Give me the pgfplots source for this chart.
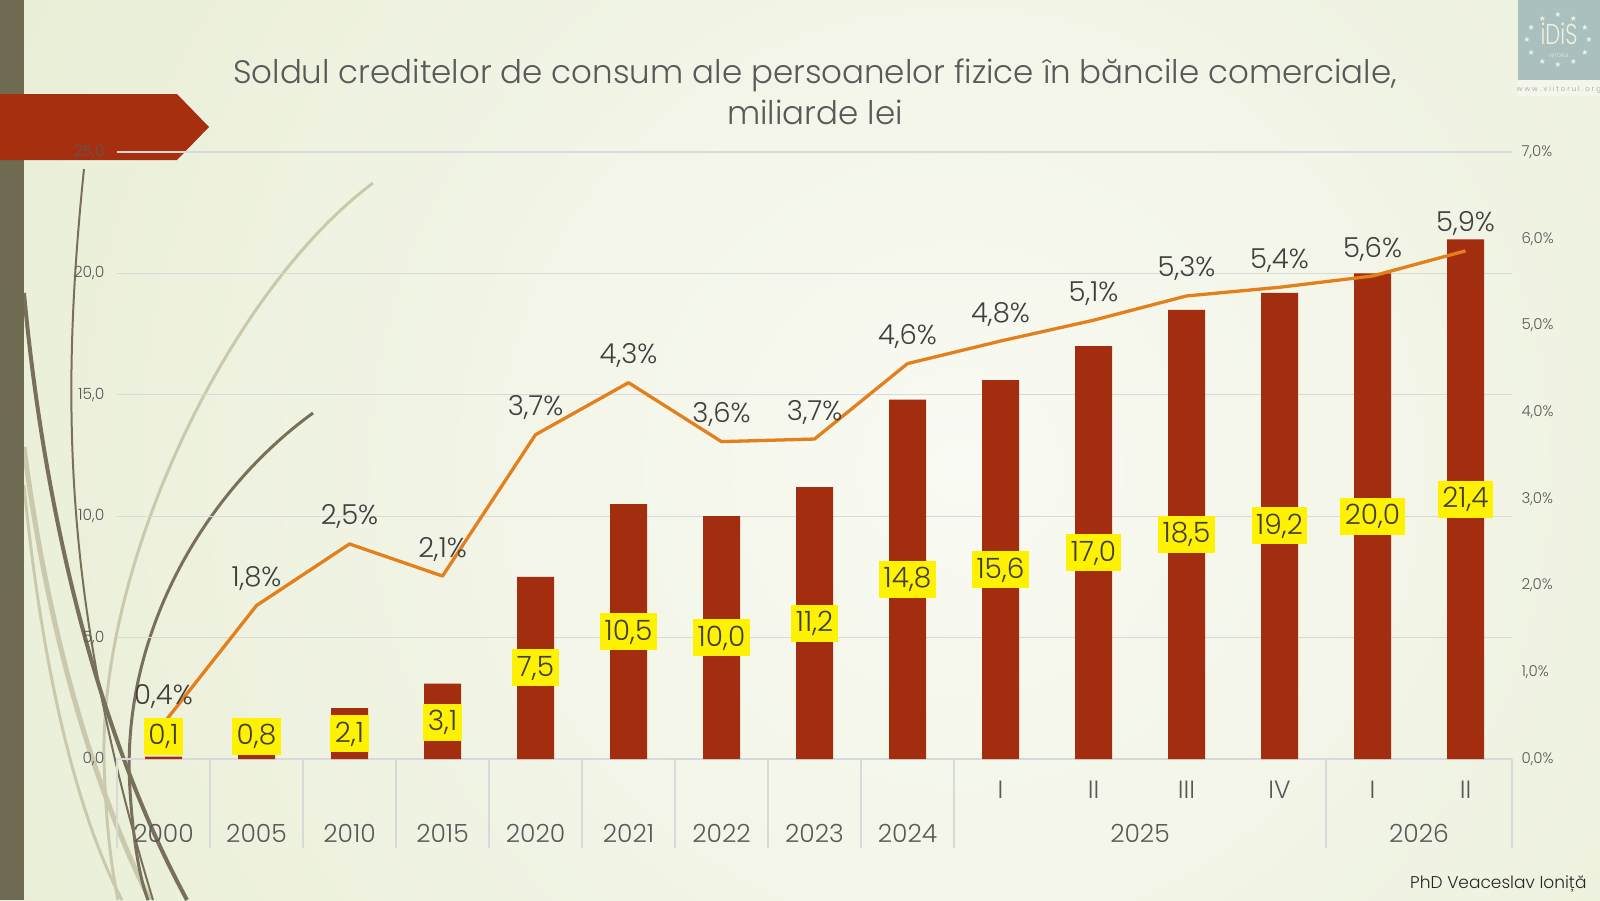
\documentclass[border=0pt]{standalone}
\usepackage{pgfplots}
\pgfplotsset{compat=1.18}
\usepackage{pgfplotstable}
\usepackage{fontspec}
\setmainfont{Poppins Light}
\newfontfamily\symfont{DejaVu Sans}
\pgfkeys{/pgf/number format/assume math mode=true}
\definecolor{bgA}{HTML}{F9FAF3}
\definecolor{bgB}{HTML}{DCE5C0}
\definecolor{stripe}{HTML}{6F6A52}
\definecolor{barred}{HTML}{A32D0F}
\definecolor{arrowred}{HTML}{A62F10}
\definecolor{lineor}{HTML}{E3801C}
\definecolor{gridc}{HTML}{D9D9D9}
\definecolor{txt}{HTML}{595959}
\definecolor{labc}{HTML}{3F3F3F}
\definecolor{cdark}{HTML}{78705A}
\definecolor{clight}{HTML}{CAC9AC}
\definecolor{logo}{HTML}{A9C0BE}
\definecolor{logotxt}{HTML}{F2F0DC}

\pgfplotstableread{
x val lab txt pct ptxt
0 0.1 0.93 0,1 0.41 0,4
1 0.8 0.93 0,8 1.77 1,8
2 2.1 1.05 2,1 2.48 2,5
3 3.1 1.52 3,1 2.11 2,1
4 7.5 3.75 7,5 3.74 3,7
5 10.5 5.25 10,5 4.34 4,3
6 10.0 5.0 10,0 3.66 3,6
7 11.2 5.6 11,2 3.69 3,7
8 14.8 7.4 14,8 4.56 4,6
9 15.6 7.8 15,6 4.82 4,8
10 17.0 8.5 17,0 5.06 5,1
11 18.5 9.25 18,5 5.34 5,3
12 19.2 9.6 19,2 5.44 5,4
13 20.0 10.0 20,0 5.57 5,6
14 21.4 10.7 21,4 5.86 5,9
}\data

\pgfplotsset{base/.style={scale only axis, width=1395pt, height=607pt,
  at={(117pt,-759pt)}, anchor=south west, xmin=-0.5, xmax=14.5, clip=false,
  axis line style={draw=none}, major tick length=0pt, minor tick num=0}}

\begin{document}
\begin{tikzpicture}
\useasboundingbox (0,0) rectangle (1600pt,-900pt);
\begin{scope}
\clip (0,0) rectangle (1600pt,-900pt);
\shade[inner color=bgA, outer color=bgB] (960pt,-470pt) circle (1900pt);
% decorative curves
\draw[clight, line width=5pt] (24pt,-447pt) .. controls (50pt,-650pt) and (100pt,-800pt) .. (150pt,-900pt);
\draw[clight, line width=3pt] (24pt,-485pt) .. controls (45pt,-700pt) and (85pt,-830pt) .. (122pt,-900pt);
\draw[clight, line width=3pt] (373pt,-183pt) .. controls (230pt,-290pt) and (100pt,-560pt) .. (104pt,-760pt) .. controls (106pt,-830pt) and (112pt,-870pt) .. (118pt,-900pt);
\draw[cdark, line width=2pt] (84pt,-169pt) .. controls (58pt,-420pt) and (68pt,-620pt) .. (153pt,-900pt);
\draw[cdark, line width=4pt] (24pt,-293pt) .. controls (45pt,-520pt) and (100pt,-740pt) .. (187pt,-900pt);
\draw[cdark, line width=3pt] (313pt,-413pt) .. controls (200pt,-495pt) and (120pt,-640pt) .. (130pt,-790pt) .. controls (133pt,-840pt) and (140pt,-880pt) .. (148pt,-900pt);
\fill[stripe] (0,0) rectangle (24pt,-900pt);
\fill[arrowred] (0,-94pt) -- (177pt,-94pt) -- (209pt,-127pt) -- (177pt,-160pt) -- (0,-160pt) -- cycle;
% logo
\fill[logo] (1518pt,0) rectangle (1600pt,-80pt);
\fill[white, opacity=0.35] (1518pt,-80pt) rectangle (1600pt,-96pt);
\node[text=logotxt, font=\fontsize{25}{25}\selectfont, yscale=1.15, xscale=0.85, inner sep=0pt] at (1559pt,-34pt) {iDiS};
\node[text=logotxt, font=\fontsize{5}{5}\selectfont, inner sep=0pt] at (1559pt,-56pt) {VIITORUL};
\foreach \a in {0,30,...,330}
  \node[text=logotxt, font=\symfont\fontsize{8}{8}\selectfont, inner sep=0pt] at ([shift={(1558pt,-40pt)}]\a:31pt and 25pt) {★};
\node[text=txt!60, font=\fontsize{7}{7}\selectfont] at (1559pt,-90pt) {w w w . v i i t o r u l . o r g};
\end{scope}

\node[text=txt, font=\fontsize{32.5}{41}\selectfont, align=center] at (815pt,-92pt)
  {Soldul creditelor de consum ale persoanelor fizice în băncile comerciale,\\miliarde lei};
\node[anchor=east, text=black!85, font=\fontsize{17}{17}\selectfont] at (1590pt,-884pt) {PhD Veaceslav Ioniță};

% bars
\begin{axis}[base, ymin=0, ymax=25, ytick={0,5,...,25},
  ymajorgrids, grid style={gridc, line width=1.1pt},
  xtick={9,...,14}, xticklabels={I,II,III,IV,I,II},
  xticklabel style={anchor=center, yshift=-31pt, text=txt, font=\fontsize{25}{25}\selectfont},
  yticklabel style={text=txt, font=\fontsize{15.5}{15.5}\selectfont, xshift=-9pt,
    /pgf/number format/.cd, fixed, fixed zerofill, precision=1, use comma}]
\addplot[ybar, bar width=37pt, bar shift=0pt, fill=barred, draw=none] table[x=x,y=val]{\data};
\pgfplotsinvokeforeach{-0.5,0.5,1.5,2.5,3.5,4.5,5.5,6.5,7.5,8.5,12.5,14.5}{
  \draw[gridc, line width=1.1pt] (axis cs:#1,0) -- ++(0pt,-89pt);
}
\end{axis}

% line
\begin{axis}[base, ymin=0, ymax=7, ytick={0,1,...,7}, yticklabel pos=right,
  yticklabel={\pgfmathprintnumber{\tick}\%},
  yticklabel style={text=txt, font=\fontsize{15}{15}\selectfont, xshift=6pt,
    /pgf/number format/.cd, fixed, fixed zerofill, precision=1, use comma},
  xtick={0,1,2,3,4,5,6,7,8,10.5,13.5},
  xticklabels={2000,2005,2010,2015,2020,2021,2022,2023,2024,2025,2026},
  xticklabel style={anchor=center, yshift=-74pt, text=txt, font=\fontsize{25}{25}\selectfont}]
\addplot[lineor, line width=3.3pt, line join=round, mark=none,
  nodes near coords={\pgfplotspointmeta\%}, point meta=explicit symbolic,
  every node near coord/.style={anchor=base, yshift=19pt, text=labc, font=\fontsize{27.5}{27.5}\selectfont}]
  table[x=x, y=pct, meta=ptxt]{\data};
\end{axis}

% bar labels
\begin{axis}[base, hide axis, ymin=0, ymax=25]
\addplot[draw=none, mark=none, nodes near coords, point meta=explicit symbolic,
  every node near coord/.style={anchor=center, fill=yellow, text=labc,
    font=\fontsize{28}{28}\selectfont, inner xsep=4.5pt, inner ysep=0pt,
    text height=27pt, text depth=10pt}]
  table[x=x, y=lab, meta=txt]{\data};
\end{axis}
\end{tikzpicture}
\end{document}
